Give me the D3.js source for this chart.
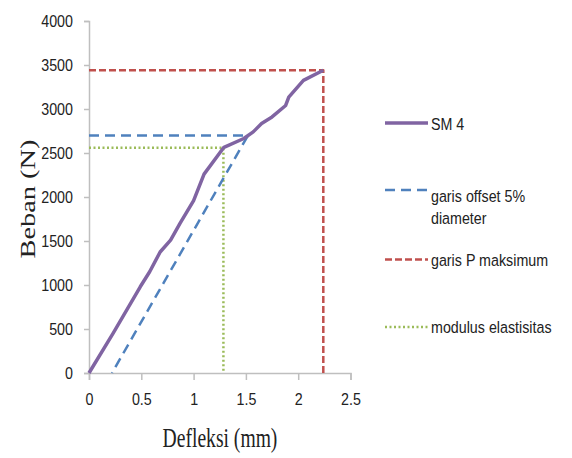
<!DOCTYPE html>
<html><head><meta charset="utf-8">
<script src="https://cdn.jsdelivr.net/npm/d3@7"></script>
<style>
html,body{margin:0;padding:0;background:#fff;}
svg{display:block;}
</style></head>
<body>
<svg id="chart" width="572" height="458"></svg>
<script>
// ---- data ----
const sm4X = [0, 0.23, 0.49, 0.58, 0.68, 0.78, 0.87, 1.0, 1.1, 1.29, 1.48, 1.57, 1.65, 1.75, 1.88, 1.91, 2.05, 2.24];
const sm4Y = [0, 450, 980, 1150, 1375, 1510, 1700, 1960, 2260, 2565, 2665, 2740, 2835, 2910, 3040, 3135, 3325, 3440];
const offsetX = [0, 1.52, 1.52, 0.22];
const offsetY = [2700, 2700, 2700, 0];
const pmaxX = [0, 2.24, 2.24];
const pmaxY = [3440, 3440, 0];
const modX = [0, 1.285, 1.285];
const modY = [2560, 2560, 0];
const xTicks = [0, 0.5, 1, 1.5, 2, 2.5];
const yTicks = [0, 500, 1000, 1500, 2000, 2500, 3000, 3500, 4000];
const seriesNames = ["SM 4", "garis offset 5%|diameter", "garis P maksimum", "modulus elastisitas"];
const xTitle = "Defleksi (mm)";
const yTitle = "Beban (N)";

// ---- chart ----
const svg = d3.select("#chart");
const x = d3.scaleLinear().domain([0, 2.5]).range([89, 350.5]);
const y = d3.scaleLinear().domain([0, 4000]).range([373, 21]);
const tickFont = "'Liberation Sans Narrow', 'Liberation Sans', Arial, sans-serif";
const axisColor = "#bfbfbf";
const squeeze = 0.84;

// y axis
const yAx = svg.append("g").attr("transform", `translate(${x(0)},0)`)
  .call(d3.axisLeft(y).tickValues(yTicks).tickSize(5).tickPadding(11).tickFormat(d3.format("d")));
// x axis
const xAx = svg.append("g").attr("transform", `translate(0,${y(0)})`)
  .call(d3.axisBottom(x).tickValues(xTicks).tickSize(7).tickPadding(13).tickFormat(d => String(d)));
[yAx, xAx].forEach(g => {
  g.select(".domain").attr("stroke", axisColor).attr("stroke-width", 1.5);
  g.selectAll(".tick line").attr("stroke", axisColor).attr("stroke-width", 1.5);
  g.selectAll(".tick text").attr("fill", "#222").style("font-family", tickFont).style("font-size", "17px")
    .each(function() {
      const t = d3.select(this);
      const tx = +t.attr("x") || 0, ty = +t.attr("y") || 0;
      t.attr("x", 0).attr("y", 0).attr("transform", `translate(${tx},${ty}) scale(${squeeze},1)`);
    });
});

const line = d3.line().x(d => x(d[0])).y(d => y(d[1]));
const zip = (a, b) => a.map((v, i) => [v, b[i]]);

const styles = [
  {color: "#8064a2", width: 3.5, dash: null},
  {color: "#4f81bd", width: 2.5, dash: "10,6"},
  {color: "#c0504d", width: 2.5, dash: "7,3"},
  {color: "#9bbb59", width: 2.5, dash: "2,2.5"}
];

const data = [zip(sm4X, sm4Y), zip(offsetX, offsetY), zip(pmaxX, pmaxY), zip(modX, modY)];
const drawOrder = [3, 2, 1, 0];
drawOrder.forEach(i => {
  svg.append("path").datum(data[i]).attr("d", line)
    .attr("fill", "none").attr("stroke", styles[i].color)
    .attr("stroke-width", styles[i].width)
    .attr("stroke-dasharray", styles[i].dash)
    .attr("stroke-linejoin", "round");
});

// axis titles
svg.append("text").attr("transform", "translate(220,447) scale(0.98,1.35)")
  .attr("text-anchor", "middle").style("font-family", "'Liberation Serif', 'Times New Roman', serif")
  .style("font-size", "20px").attr("fill", "#222").text(xTitle);
svg.append("text").attr("transform", "translate(35,199) rotate(-90) scale(1.42,1)")
  .attr("text-anchor", "middle").style("font-family", "'Liberation Serif', 'Times New Roman', serif")
  .style("font-size", "20px").attr("fill", "#222").text(yTitle);

// legend
const legY = [123, 190, 259.5, 327];
const legTextY = [130, 201.5, 265.5, 333];
const leg = svg.append("g");
seriesNames.forEach((name, i) => {
  leg.append("line").attr("x1", 385).attr("x2", 428).attr("y1", legY[i]).attr("y2", legY[i])
    .attr("stroke", styles[i].color).attr("stroke-width", styles[i].width)
    .attr("stroke-dasharray", styles[i].dash);
  const parts = name.split("|");
  parts.forEach((p, j) => {
    leg.append("text").attr("transform", `translate(431,${legTextY[i] + j * 22}) scale(${squeeze},1)`)
      .style("font-family", tickFont).style("font-size", "17px").attr("fill", "#222").text(p);
  });
});
</script>
</body></html>
